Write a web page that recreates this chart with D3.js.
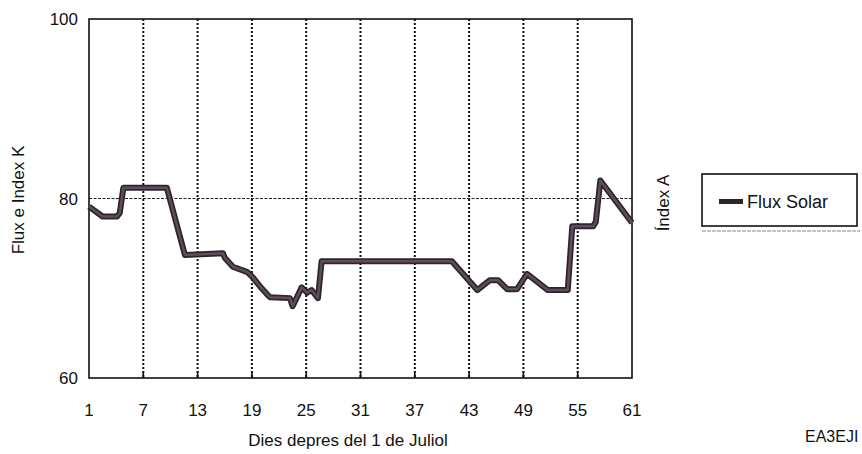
<!DOCTYPE html>
<html>
<head>
<meta charset="utf-8">
<script src="https://cdn.jsdelivr.net/npm/d3@7"></script>
<style>
  body { margin: 0; background: #fff; }
  svg text { font-family: "Liberation Sans", Arial, sans-serif; fill: #111; }
</style>
</head>
<body>
<svg id="chart" width="862" height="454"></svg>
<script>
// dies (fractional) and flux values
let dies = [1, 2.5, 4.1, 4.4, 4.8, 9.6, 11.6, 15.8, 16.0, 16.9, 18.5, 19.1, 19.9, 20.7, 21,
            23.2, 23.5, 24.5, 25.1, 25.6, 26.3, 26.7, 41.1, 43.9, 45.3, 46.2, 47.2, 48.3,
            49.4, 51.7, 53.9, 54.4, 56.7, 57.0, 57.5, 61];
let flux = [79.1, 78.0, 78.0, 78.4, 81.2, 81.2, 73.7, 73.9, 73.4, 72.4, 71.8, 71.2, 70.2, 69.3, 69.0,
            68.9, 68.0, 70.1, 69.5, 69.8, 68.9, 73.0, 73.0, 69.8, 70.9, 70.9, 69.9, 69.9,
            71.6, 69.8, 69.8, 76.9, 76.9, 77.4, 82.0, 77.3];
let xticks = [1, 7, 13, 19, 25, 31, 37, 43, 49, 55, 61];
let yticks = [60, 80, 100];

let svg = d3.select("#chart");

let x = d3.scaleLinear().domain([1, 61]).range([89, 632]);
let y = d3.scaleLinear().domain([60, 100]).range([378, 19]);

// vertical dotted gridlines
svg.append("g").selectAll("line")
  .data(xticks.slice(1, -1))
  .join("line")
  .attr("x1", d => x(d)).attr("x2", d => x(d))
  .attr("y1", y(100)).attr("y2", y(60))
  .attr("stroke", "#111")
  .attr("stroke-width", 2)
  .attr("stroke-dasharray", "2,2");

// small solid ticks at the bottom
svg.append("g").selectAll("line")
  .data(xticks.slice(1, -1))
  .join("line")
  .attr("x1", d => x(d)).attr("x2", d => x(d))
  .attr("y1", y(60)).attr("y2", y(60) - 7)
  .attr("stroke", "#111")
  .attr("stroke-width", 1.6);

// horizontal dotted line at 80
svg.append("line")
  .attr("x1", x(1)).attr("x2", x(61))
  .attr("y1", y(80)).attr("y2", y(80))
  .attr("stroke", "#222")
  .attr("stroke-width", 1.2)
  .attr("stroke-dasharray", "3,1.5");

// plot frame
svg.append("rect")
  .attr("x", x(1)).attr("y", y(100))
  .attr("width", x(61) - x(1)).attr("height", y(60) - y(100))
  .attr("fill", "none")
  .attr("stroke", "#111")
  .attr("stroke-width", 1.6);

// flux line
let line = d3.line().x((d, i) => x(dies[i])).y(d => y(d));
svg.append("path")
  .datum(flux)
  .attr("d", line)
  .attr("fill", "none")
  .attr("stroke", "#2e252c")
  .attr("stroke-width", 6)
  .attr("stroke-linejoin", "round");
svg.append("path")
  .datum(flux)
  .attr("d", line)
  .attr("fill", "none")
  .attr("stroke", "#5e4d5a")
  .attr("stroke-width", 2.5)
  .attr("stroke-linejoin", "round");

// y tick labels
svg.append("g").selectAll("text")
  .data(yticks)
  .join("text")
  .attr("x", 78)
  .attr("y", d => y(d) + 6)
  .attr("text-anchor", "end")
  .attr("font-size", 17)
  .text(d => d);

// x tick labels
svg.append("g").selectAll("text")
  .data(xticks)
  .join("text")
  .attr("x", d => x(d))
  .attr("y", 416)
  .attr("text-anchor", "middle")
  .attr("font-size", 17)
  .text(d => d);

// axis titles
svg.append("text")
  .attr("x", 348).attr("y", 446)
  .attr("text-anchor", "middle")
  .attr("font-size", 17)
  .text("Dies depres del 1 de Juliol");

svg.append("text")
  .attr("transform", "translate(24,200) rotate(-90)")
  .attr("text-anchor", "middle")
  .attr("font-size", 17)
  .text("Flux e Index K");

svg.append("text")
  .attr("transform", "translate(669,203) rotate(-90)")
  .attr("text-anchor", "middle")
  .attr("font-size", 17)
  .text("Índex A");

// legend
svg.append("line")
  .attr("x1", 702).attr("x2", 860)
  .attr("y1", 231).attr("y2", 231)
  .attr("stroke", "#888")
  .attr("stroke-width", 1.2)
  .attr("stroke-dasharray", "4,1");
svg.append("rect")
  .attr("x", 702).attr("y", 174)
  .attr("width", 155).attr("height", 52)
  .attr("fill", "#fff")
  .attr("stroke", "#111")
  .attr("stroke-width", 1.6);
svg.append("rect")
  .attr("x", 719).attr("y", 199)
  .attr("width", 24).attr("height", 5)
  .attr("fill", "#2e252c");
svg.append("text")
  .attr("x", 747).attr("y", 208)
  .attr("font-size", 18)
  .text("Flux Solar");

svg.append("text")
  .attr("x", 805).attr("y", 442)
  .attr("font-size", 16)
  .text("EA3EJI");
</script>
</body>
</html>
